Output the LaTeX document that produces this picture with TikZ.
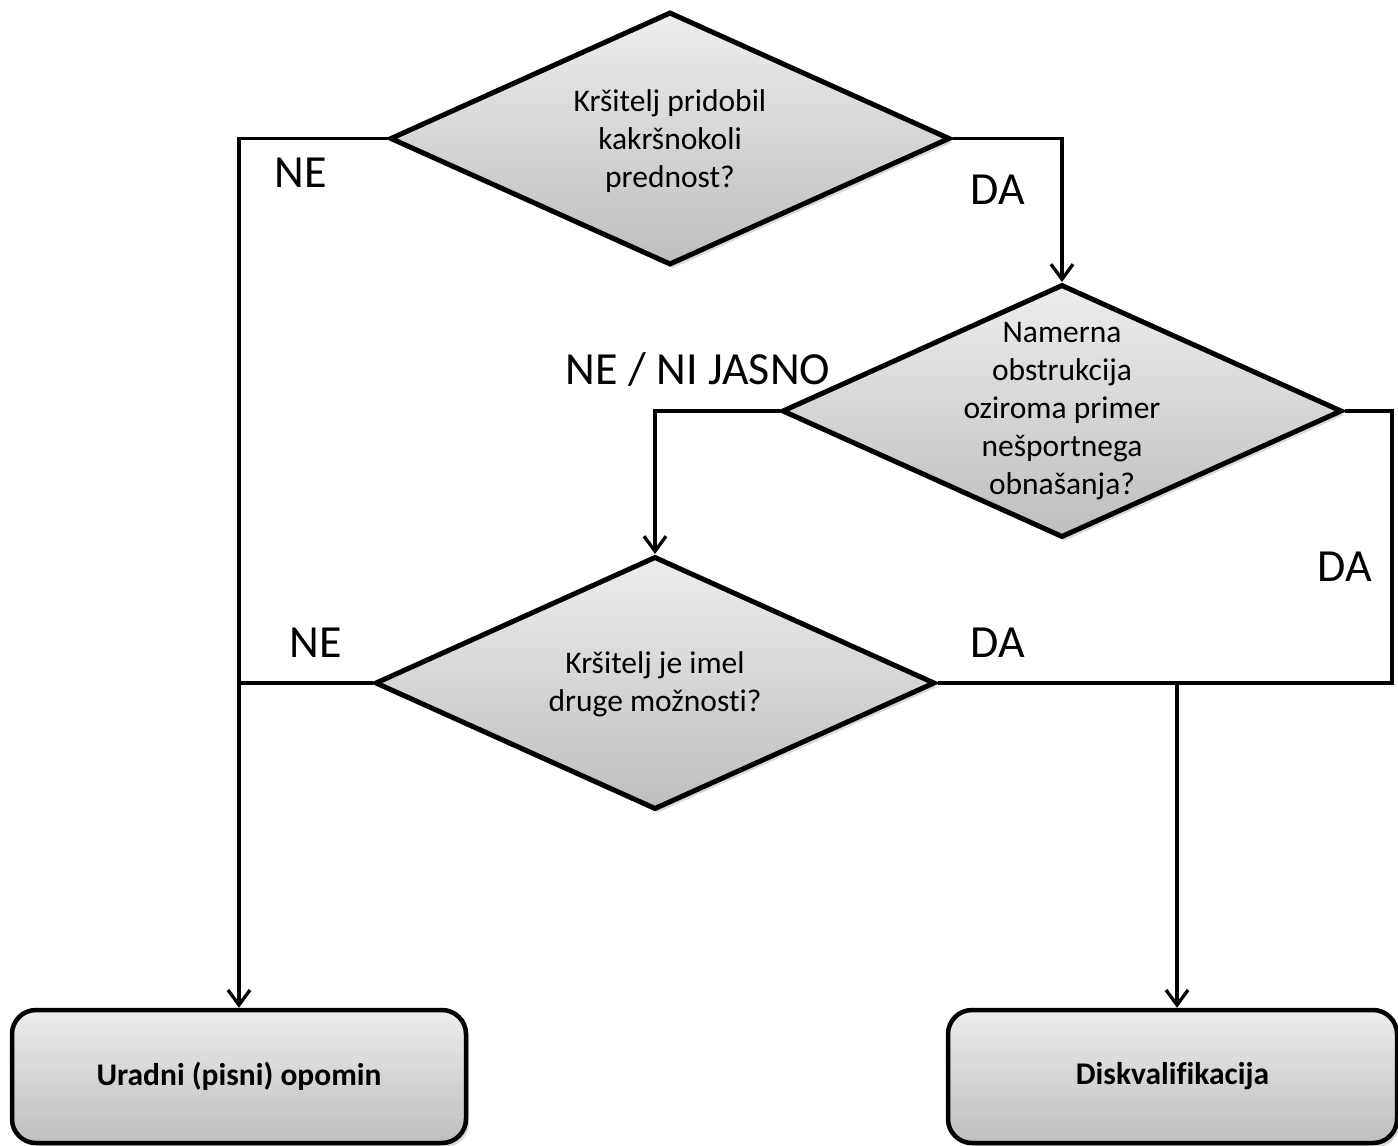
\documentclass[tikz,border=0pt]{standalone}
\usepackage{fontspec}
\setmainfont{Carlito}[Ligatures=NoCommon]
\usetikzlibrary{shapes.geometric,arrows.meta,shadows}
\definecolor{gtop}{RGB}{237,237,237}
\definecolor{gbot}{RGB}{190,190,190}
\tikzset{
  dia/.style={diamond, draw=black, line width=5pt, inner sep=0pt,
    minimum width=560pt, minimum height=253pt, top color=gtop, bottom color=gbot,
    drop shadow={shadow xshift=3pt, shadow yshift=-4pt, opacity=0.25, fill=black!60}},
  dtext/.style={align=center, font=\fontsize{31.5}{38}\selectfont, inner sep=0pt},
  endbox/.style={rectangle, rounded corners=24pt, draw=black, line width=4.5pt,
    top color=gtop, bottom color=gbot, minimum height=133pt,
    font=\bfseries\fontsize{31.5}{38}\selectfont,
    drop shadow={shadow xshift=3pt, shadow yshift=-4pt, opacity=0.25, fill=black!60}},
  lbl/.style={font=\fontsize{46}{54}\selectfont, inner sep=0pt},
  conn/.style={line width=3.3pt, line join=miter},
  arr/.style={conn, -{Straight Barb[length=15pt, width=22pt, line width=3.3pt]}}
}
\begin{document}
\begin{tikzpicture}[x=1pt, y=-1pt]
\useasboundingbox (0,0) rectangle (1398,1146);
% diamonds
\node[dia] (d1) at (670,138.5) {};
\node[dtext] (t1) at (670,141) {Kršitelj pridobil\\kakršnokoli\\prednost?};
\node[dia] (d2) at (1062,411) {};
\node[dtext] (t2) at (1062,411) {Namerna\\obstrukcija\\oziroma primer\\nešportnega\\obnašanja?};
\node[dia] (d3) at (655,683) {};
\node[dtext] (t3) at (655,684) {Kršitelj je imel\\druge možnosti?};
% end boxes
\node[endbox, minimum width=454pt] (b1) at (239,1076.5) {Uradni (pisni) opomin};
\node[endbox, minimum width=449pt] (b2) at (1172.5,1076.5) {Diskvalifikacija};
% helper coordinates
\coordinate (rc) at (1392,683);
\coordinate (j2) at (1177,683);
% connectors
\draw[arr] (d1.west) -| (b1.north);
\draw[arr] (d1.east) -| (d2.north);
\draw[arr] (d2.west) -| (d3.north);
\draw[conn] (d2.east) -| (rc) -- (d3.east);
\draw[conn] (d3.west) -- (d3.west -| b1.north);
\draw[arr] (j2) -- (j2 |- b2.north);
% labels
\node[lbl] (l1) at (301,173) {NE};
\node[lbl] (l2) at (998,190) {DA};
\node[lbl] (l3) at (698,370) {NE / NI JASNO};
\node[lbl] (l4) at (1345,567) {DA};
\node[lbl] (l5) at (316,643) {NE};
\node[lbl] (l6) at (998,643) {DA};
\end{tikzpicture}
\end{document}
